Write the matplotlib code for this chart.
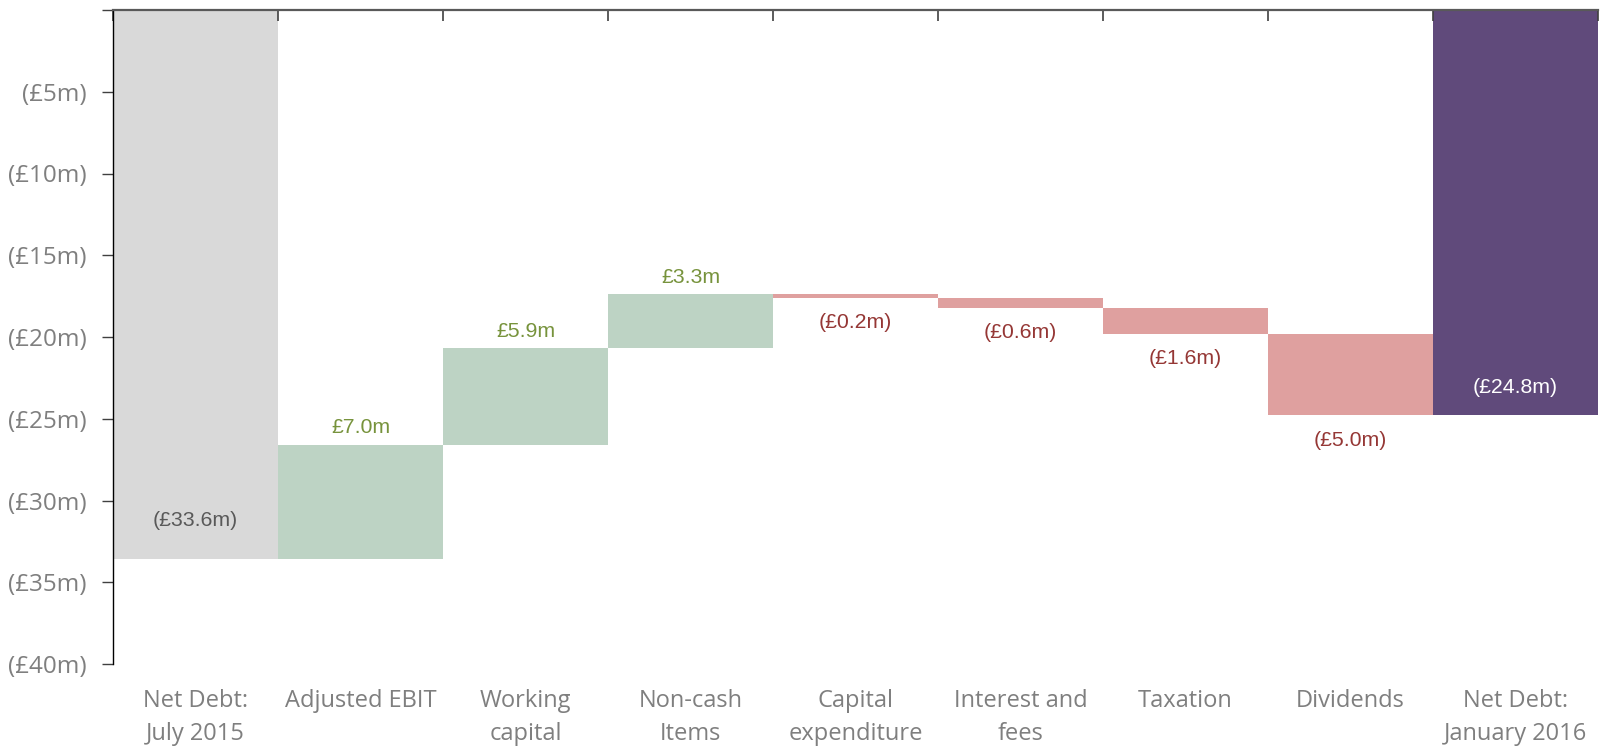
import matplotlib
matplotlib.use("Agg")
import matplotlib.pyplot as plt
import numpy as np

# Net debt bridge, July 2015 -> January 2016 (GBP millions)
categories = ["Net Debt:\nJuly 2015", "Adjusted EBIT", "Working\ncapital", "Non-cash\nItems",
              "Capital\nexpenditure", "Interest and\nfees", "Taxation", "Dividends",
              "Net Debt:\nJanuary 2016"]
opening = -33.6
movements = [7.0, 5.9, 3.3, -0.2, -0.6, -1.6, -5.0]
closing = -24.8
value_labels = ["(£33.6m)", "£7.0m", "£5.9m", "£3.3m", "(£0.2m)", "(£0.6m)",
                "(£1.6m)", "(£5.0m)", "(£24.8m)"]
ytick_values = [0, -5, -10, -15, -20, -25, -30, -35, -40]
ytick_labels = ["", "(£5m)", "(£10m)", "(£15m)", "(£20m)", "(£25m)", "(£30m)", "(£35m)", "(£40m)"]

GREY = "#D9D9D9"
GREEN = "#BDD3C4"
RED = "#DFA09F"
PURPLE = "#604A7B"
GREEN_TXT = "#77933C"
RED_TXT = "#953735"
AXIS_TXT = "#7F7F7F"

fig = plt.figure(figsize=(16, 7.47), dpi=100)
ax = fig.add_axes([113 / 1600, 1 - 664 / 747, 1485 / 1600, 654 / 747])

x = np.arange(len(categories))
label_font = dict(family=["Liberation Sans", "DejaVu Sans"], fontsize=15.3)

# opening balance
ax.bar(x[0], opening, width=1.0, color=GREY, linewidth=0)
ax.annotate(value_labels[0], (x[0], opening), xytext=(0, 28), textcoords="offset points",
            ha="center", va="center", color="#595959", **label_font)

# movements
level = opening
for i, m in enumerate(movements, start=1):
    new_level = level + m
    colour = GREEN if m > 0 else RED
    ax.bar(x[i], m, bottom=level, width=1.0, color=colour, linewidth=0)
    if m > 0:
        ax.annotate(value_labels[i], (x[i], new_level), xytext=(0, 12.5),
                    textcoords="offset points", ha="center", va="center",
                    color=GREEN_TXT, **label_font)
    else:
        ax.annotate(value_labels[i], (x[i], new_level), xytext=(0, -18),
                    textcoords="offset points", ha="center", va="center",
                    color=RED_TXT, **label_font)
    level = new_level

# closing balance
ax.bar(x[-1], closing, width=1.0, color=PURPLE, linewidth=0)
ax.annotate(value_labels[-1], (x[-1], closing), xytext=(0, 20), textcoords="offset points",
            ha="center", va="center", color="white", **label_font)

ax.set_xlim(-0.5, len(categories) - 0.5)
ax.set_ylim(-40, 0)

# spines: axis line across the top at zero, black left axis
for side in ("right", "bottom"):
    ax.spines[side].set_visible(False)
ax.spines["top"].set_color("#595959")
ax.spines["top"].set_linewidth(1.6)
ax.spines["left"].set_color("black")
ax.spines["left"].set_linewidth(1.0)

# y axis
ax.set_yticks(ytick_values)
ax.set_yticklabels(ytick_labels)
ax.tick_params(axis="y", direction="out", length=8, width=1, color="#404040",
               labelcolor=AXIS_TXT, labelsize=17.5, pad=11)
for t in ax.get_yticklabels():
    t.set_family(["Open Sans", "DejaVu Sans"])

# x axis: labels below, category dividers as ticks hanging from the top line
ax.set_xticks(x)
ax.set_xticklabels(categories, linespacing=1.5)
ax.tick_params(axis="x", which="major", length=0, labelcolor=AXIS_TXT, labelsize=17,
               pad=18, top=False, bottom=True)
for t in ax.get_xticklabels():
    t.set_family(["Open Sans", "DejaVu Sans"])
ax.set_xticks(np.arange(-0.5, len(categories), 1.0), minor=True)
ax.tick_params(axis="x", which="minor", top=True, bottom=False, direction="in",
               length=8, width=1.2, color="#404040")

fig.savefig("out.png", dpi=100)
